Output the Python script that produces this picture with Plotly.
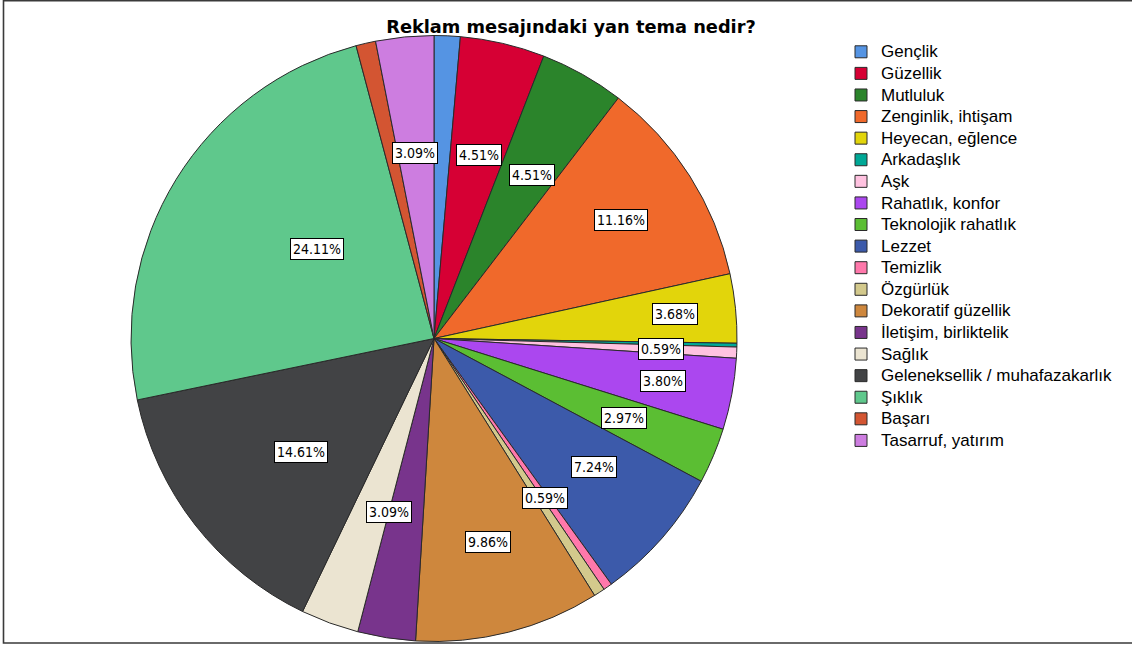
import math
import plotly.graph_objects as go

# Secondary advertising theme shares (%), in drawing order (clockwise from 12 o'clock)
themes = [
    "Gençlik", "Güzellik", "Mutluluk", "Zenginlik, ihtişam", "Heyecan, eğlence",
    "Arkadaşlık", "Aşk", "Rahatlık, konfor", "Teknolojik rahatlık", "Lezzet",
    "Temizlik", "Özgürlük", "Dekoratif güzellik", "İletişim, birliktelik", "Sağlık",
    "Geleneksellik / muhafazakarlık", "Şıklık", "Başarı", "Tasarruf, yatırım",
]
shares = [
    1.39, 4.51, 4.51, 11.16, 3.68,
    0.20, 0.59, 3.80, 2.97, 7.24,
    0.47, 0.59, 9.86, 3.08, 3.09,
    14.61, 24.11, 1.05, 3.09,
]
colors = [
    "#5594E3", "#D60034", "#2B842B", "#F0692B", "#E2D50B",
    "#00A896", "#FFC2E0", "#AB47EF", "#5BBE33", "#3C5AAA",
    "#FF78AB", "#D3C98C", "#CE873D", "#78348C", "#EBE4D1",
    "#424345", "#5FC88C", "#D35532", "#CD7DE0",
]

# Slices that carry a percentage box, with the box distance from the centre (fraction of radius)
label_radius = {
    "Güzellik": 0.66, "Mutluluk": 0.66, "Zenginlik, ihtişam": 0.73,
    "Heyecan, eğlence": 0.80, "Aşk": 0.75, "Rahatlık, konfor": 0.77,
    "Teknolojik rahatlık": 0.68, "Lezzet": 0.70, "Özgürlük": 0.67,
    "Dekoratif güzellik": 0.73, "Sağlık": 0.65,
    "Geleneksellik / muhafazakarlık": 0.67, "Şıklık": 0.56,
    "Tasarruf, yatırım": 0.65,
}

W, H = 1132, 645
CX, CY, R = 434.0, 338.5, 303.0   # pie centre / radius in px

fig = go.Figure()
fig.add_trace(go.Pie(
    labels=[f'<span style="font-size:17px">{t}</span>' for t in themes],
    values=shares,
    sort=False,
    direction="clockwise",
    rotation=0,
    textinfo="none",
    hoverinfo="label+percent",
    marker=dict(colors=colors, line=dict(color="#2A2A2A", width=1)),
    domain=dict(x=[(CX - R) / W, (CX + R) / W], y=[1 - (CY + R) / H, 1 - (CY - R) / H]),
))

# Boxed percentage labels at each slice's mid-angle
total = sum(shares)
annotations = []
cum = 0.0
for name, v in zip(themes, shares):
    mid = (cum + v / 2) / total * 2 * math.pi
    cum += v
    if name not in label_radius:
        continue
    r = label_radius[name] * R
    annotations.append(dict(
        x=(CX + r * math.sin(mid)) / W,
        y=1 - (CY - r * math.cos(mid)) / H,
        xref="paper", yref="paper",
        text=f"{v / total * 100:.2f}%",
        showarrow=False,
        font=dict(family="DejaVu Sans Condensed, Liberation Sans Narrow, sans-serif", size=14, color="#000"),
        bgcolor="#FFFFFF",
        bordercolor="#000000",
        borderwidth=1,
        borderpad=2,
    ))

fig.update_layout(
    width=W, height=H,
    margin=dict(l=0, r=0, t=0, b=0),
    paper_bgcolor="#FFFFFF",
    title=dict(
        text="<b>Reklam mesajındaki yan tema nedir?</b>",
        font=dict(family="DejaVu Sans, sans-serif", size=17.8, color="#000"),
        x=571 / W, xanchor="center", xref="paper",
        y=1 - 27 / H, yanchor="middle", yref="paper",
    ),
    legend=dict(
        x=841 / W, xanchor="left",
        y=1 - 36 / H, yanchor="top",
        font=dict(family="Liberation Sans, Arial, sans-serif", size=14.3, color="#000"),
        bgcolor="rgba(0,0,0,0)",
        traceorder="normal",
    ),
    annotations=annotations,
    shapes=[dict(
        type="rect", xref="paper", yref="paper",
        x0=3.5 / W, x1=1.02, y0=1 - 643 / H, y1=1 - 0.8 / H,
        line=dict(color="#3A3A3A", width=1.6), fillcolor="rgba(0,0,0,0)",
    )],
)

fig.write_html("out.html")
